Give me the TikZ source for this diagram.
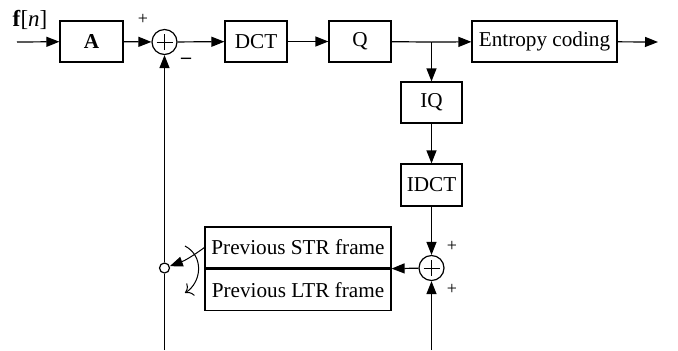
\documentclass[tikz,border=0pt]{standalone}
\usepackage{fontspec}
\setmainfont{Liberation Serif}
\usetikzlibrary{arrows.meta,positioning}

\begin{document}
\begin{tikzpicture}[x=0.5pt,y=-0.5pt,
    blk/.style={draw, line width=0.6pt, minimum height=20.5pt, inner sep=0pt,
      font=\fontsize{10.6}{12}\selectfont},
    sumnode/.style={circle, draw, line width=0.6pt, minimum size=12.5pt, inner sep=0pt,
      path picture={
        \draw[line width=0.5pt] ([xshift=-4pt]path picture bounding box.center) -- ([xshift=4pt]path picture bounding box.center);
        \draw[line width=0.5pt] ([yshift=-4pt]path picture bounding box.center) -- ([yshift=4pt]path picture bounding box.center);}},
    sig/.style={line width=0.6pt, -{Triangle[length=6.5pt,width=5pt]}},
    sgn/.style={font=\fontsize{9}{9}\selectfont, inner sep=0pt}]
  \useasboundingbox (0,0) rectangle (678,350);

  % forward path
  \node[blk, minimum width=31.5pt] (a) at (91.5,41.5) {\textbf{A}};
  \node[sumnode] (s1) at (164.5,42) {};
  \node[blk, minimum width=31pt] (dct) at (256,41.5) {DCT};
  \node[blk, minimum width=31pt] (q) at (360,41.5) {Q};
  \node[blk, minimum width=72.5pt] (ent) at (544.5,41.5) {Entropy coding};

  % reconstruction
  \node[blk, minimum width=30.5pt] (iq) at (431.5,102.5) {IQ};
  \node[blk, minimum width=30.5pt, minimum height=21pt] (idct) at (431.5,185) {IDCT};
  \node[sumnode] (s2) at (431.5,268) {};
  \node[blk, minimum width=93pt] (str) at (298,247.5) {Previous STR frame};
  \node[blk, minimum width=93pt, below=0pt of str] (ltr) {Previous LTR frame};
  \draw[line width=1pt] (str.south west) -- (str.south east);
  \node[circle, draw, line width=0.6pt, minimum size=5pt, inner sep=0pt, fill=white] (sw) at (164.5,268) {};

  \coordinate (in) at (17,42);
  \coordinate (out) at (658,42);
  \coordinate (br) at (431.5,42);
  \coordinate (fb) at (164.5,350);
  \coordinate (bt) at (431.5,350);

  % labels
  \node[font=\fontsize{11.5}{12}\selectfont] (fn) at (30,20) {\textbf{f}[\textit{n}]};
  \node[sgn] (p1) at (143,19) {+};
  \node[font=\fontsize{10}{10}\selectfont\bfseries, inner sep=0pt] (m1) at (186,61) {--};
  \node[sgn] (p2) at (452,246) {+};
  \node[sgn] (p3) at (452,289) {+};

  \draw[sig] (in) -- (a);
  \draw[sig] (a) -- (s1);
  \draw[sig] (s1) -- (dct);
  \draw[sig] (dct) -- (q);
  \draw[line width=0.6pt] (q) -- (br);
  \draw[sig] (br) -- (ent);
  \draw[sig] (ent) -- (out);
  \draw[sig] (br) -- (iq);
  \draw[sig] (iq) -- (idct);
  \draw[sig] (idct) -- (s2);
  \draw[sig] (bt) -- (s2);
  \draw[sig] (s2) -- (str.south east);
  \draw[line width=0.6pt] (fb) -- (sw);
  \draw[sig] (sw) -- (s1);

  % switch
  \draw[sig, line width=0.5pt] (str.west) to[bend left=8] (sw);
  \coordinate (c1) at (185,246);
  \coordinate (c2) at (185,293);
  \draw[line width=0.5pt, -{To[length=3.5pt]}] (c1) .. controls (204,256) and (202,282) .. (c2);
\end{tikzpicture}
\end{document}
